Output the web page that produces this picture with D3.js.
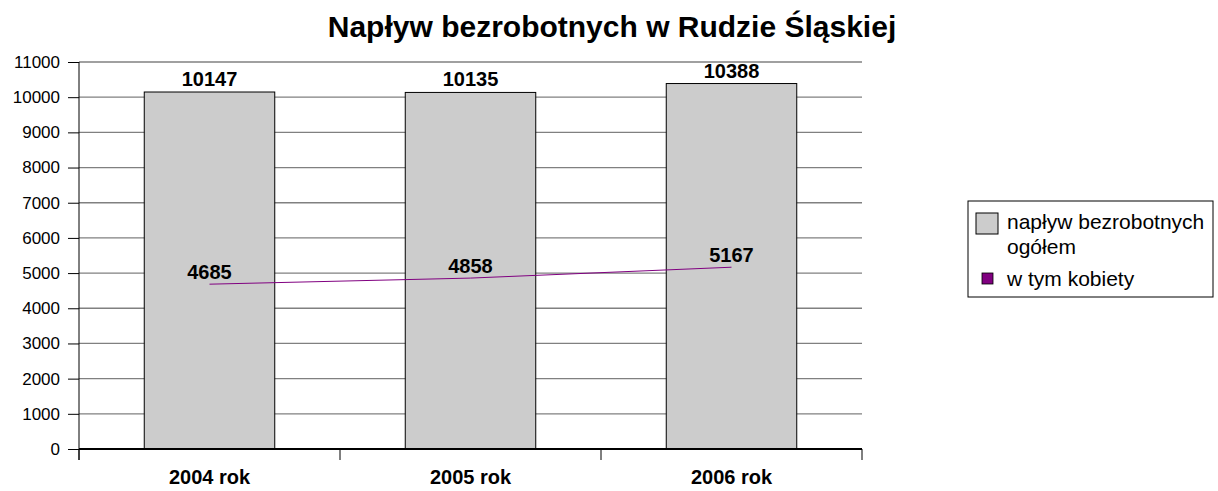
<!DOCTYPE html>
<html>
<head>
<meta charset="utf-8">
<script src="https://cdn.jsdelivr.net/npm/d3@7"></script>
<style>
  body { margin: 0; background: #fff; }
  svg { font-family: "Liberation Sans", Arial, sans-serif; }
</style>
</head>
<body>
<div id="chart"></div>
<script>
// data
const years = ["2004 rok", "2005 rok", "2006 rok"];
const totalInflow = [10147, 10135, 10388];
const women = [4685, 4858, 5167];
const yTicks = [0, 1000, 2000, 3000, 4000, 5000, 6000, 7000, 8000, 9000, 10000, 11000];
const legendLabels = [["napływ bezrobotnych", "ogółem"], ["w tym kobiety"]];

const width = 1218, height = 491;
const margin = {left: 79, right: 356, top: 62, bottom: 42};

const svg = d3.select("#chart").append("svg")
    .attr("width", width)
    .attr("height", height);

svg.append("text")
    .text("Napływ bezrobotnych w Rudzie Śląskiej")
    .attr("x", 612)
    .attr("y", 37)
    .attr("text-anchor", "middle")
    .attr("font-size", 30)
    .attr("font-weight", "bold");

let x = d3.scaleBand().domain(years).range([margin.left, width - margin.right]).paddingInner(0.5).paddingOuter(0.25);
let y = d3.scaleLinear().domain([0, 11000]).range([height - margin.bottom, margin.top]);

// gridlines
svg.append("g").selectAll("line")
    .data(yTicks.filter(d => d > 0))
    .enter().append("line")
    .attr("x1", margin.left).attr("x2", width - margin.right)
    .attr("y1", d => y(d)).attr("y2", d => y(d))
    .attr("stroke", "#808080").attr("stroke-width", 1.3);

// y axis
let yAxis = svg.append("g")
    .attr("transform", "translate(" + margin.left + ",0)")
    .call(d3.axisLeft(y).tickValues(yTicks).tickSize(11).tickPadding(8).tickFormat(d3.format("d")));
yAxis.selectAll("text").attr("font-size", 17).attr("fill", "#000").attr("font-family", "Liberation Sans, Arial, sans-serif");
yAxis.selectAll("line").attr("stroke", "#000");
yAxis.select(".domain").remove();
svg.append("line")
    .attr("x1", margin.left).attr("x2", margin.left)
    .attr("y1", y(11000)).attr("y2", y(0) + 11)
    .attr("stroke", "#000");

// bars
svg.append("g").selectAll("rect")
    .data(totalInflow)
    .enter().append("rect")
    .attr("x", (d, i) => x(years[i]))
    .attr("y", d => y(d))
    .attr("width", x.bandwidth())
    .attr("height", d => y(0) - y(d))
    .attr("fill", "#cccccc")
    .attr("stroke", "#000")
    .attr("stroke-width", 1);

// x axis
let step = (width - margin.right - margin.left) / years.length;
let bounds = d3.range(years.length + 1).map(i => margin.left + i * step);
svg.append("line")
    .attr("x1", margin.left).attr("x2", width - margin.right)
    .attr("y1", y(0)).attr("y2", y(0))
    .attr("stroke", "#000").attr("stroke-width", 2);
svg.append("g").selectAll("line")
    .data(bounds)
    .enter().append("line")
    .attr("x1", d => d).attr("x2", d => d)
    .attr("y1", y(0)).attr("y2", y(0) + 11)
    .attr("stroke", "#000");
svg.append("g").selectAll("text")
    .data(years)
    .enter().append("text")
    .text(d => d)
    .attr("x", d => x(d) + x.bandwidth() / 2)
    .attr("y", 484)
    .attr("text-anchor", "middle")
    .attr("font-size", 20)
    .attr("font-weight", "bold");

// women line
let line = d3.line()
    .x((d, i) => x(years[i]) + x.bandwidth() / 2)
    .y(d => y(d));
svg.append("path")
    .attr("d", line(women))
    .attr("fill", "none")
    .attr("stroke", "#800080")
    .attr("stroke-width", 1);

// value labels
svg.append("g").selectAll("text")
    .data(totalInflow)
    .enter().append("text")
    .text(d => d)
    .attr("x", (d, i) => x(years[i]) + x.bandwidth() / 2)
    .attr("y", d => y(d) - 6)
    .attr("text-anchor", "middle")
    .attr("font-size", 20)
    .attr("font-weight", "bold");
svg.append("g").selectAll("text")
    .data(women)
    .enter().append("text")
    .text(d => d)
    .attr("x", (d, i) => x(years[i]) + x.bandwidth() / 2)
    .attr("y", d => y(d) - 5)
    .attr("text-anchor", "middle")
    .attr("font-size", 20)
    .attr("font-weight", "bold");

// legend
let legend = svg.append("g").attr("transform", "translate(968,201)");
legend.append("rect")
    .attr("width", 245).attr("height", 96)
    .attr("fill", "#fff").attr("stroke", "#000").attr("stroke-width", 1);
legend.append("rect")
    .attr("x", 8).attr("y", 12).attr("width", 22).attr("height", 21)
    .attr("fill", "#cccccc").attr("stroke", "#000");
legend.append("rect")
    .attr("x", 14).attr("y", 72).attr("width", 11).attr("height", 11)
    .attr("fill", "#800080").attr("stroke", "#000").attr("stroke-width", 0.8);
let t1 = legend.append("text").attr("font-size", 21).attr("x", 39).attr("y", 28);
t1.append("tspan").attr("x", 39).attr("dy", 0).text(legendLabels[0][0]);
t1.append("tspan").attr("x", 39).attr("dy", 25).text(legendLabels[0][1]);
legend.append("text").attr("font-size", 21).attr("x", 39).attr("y", 85).text(legendLabels[1][0]);
</script>
</body>
</html>
